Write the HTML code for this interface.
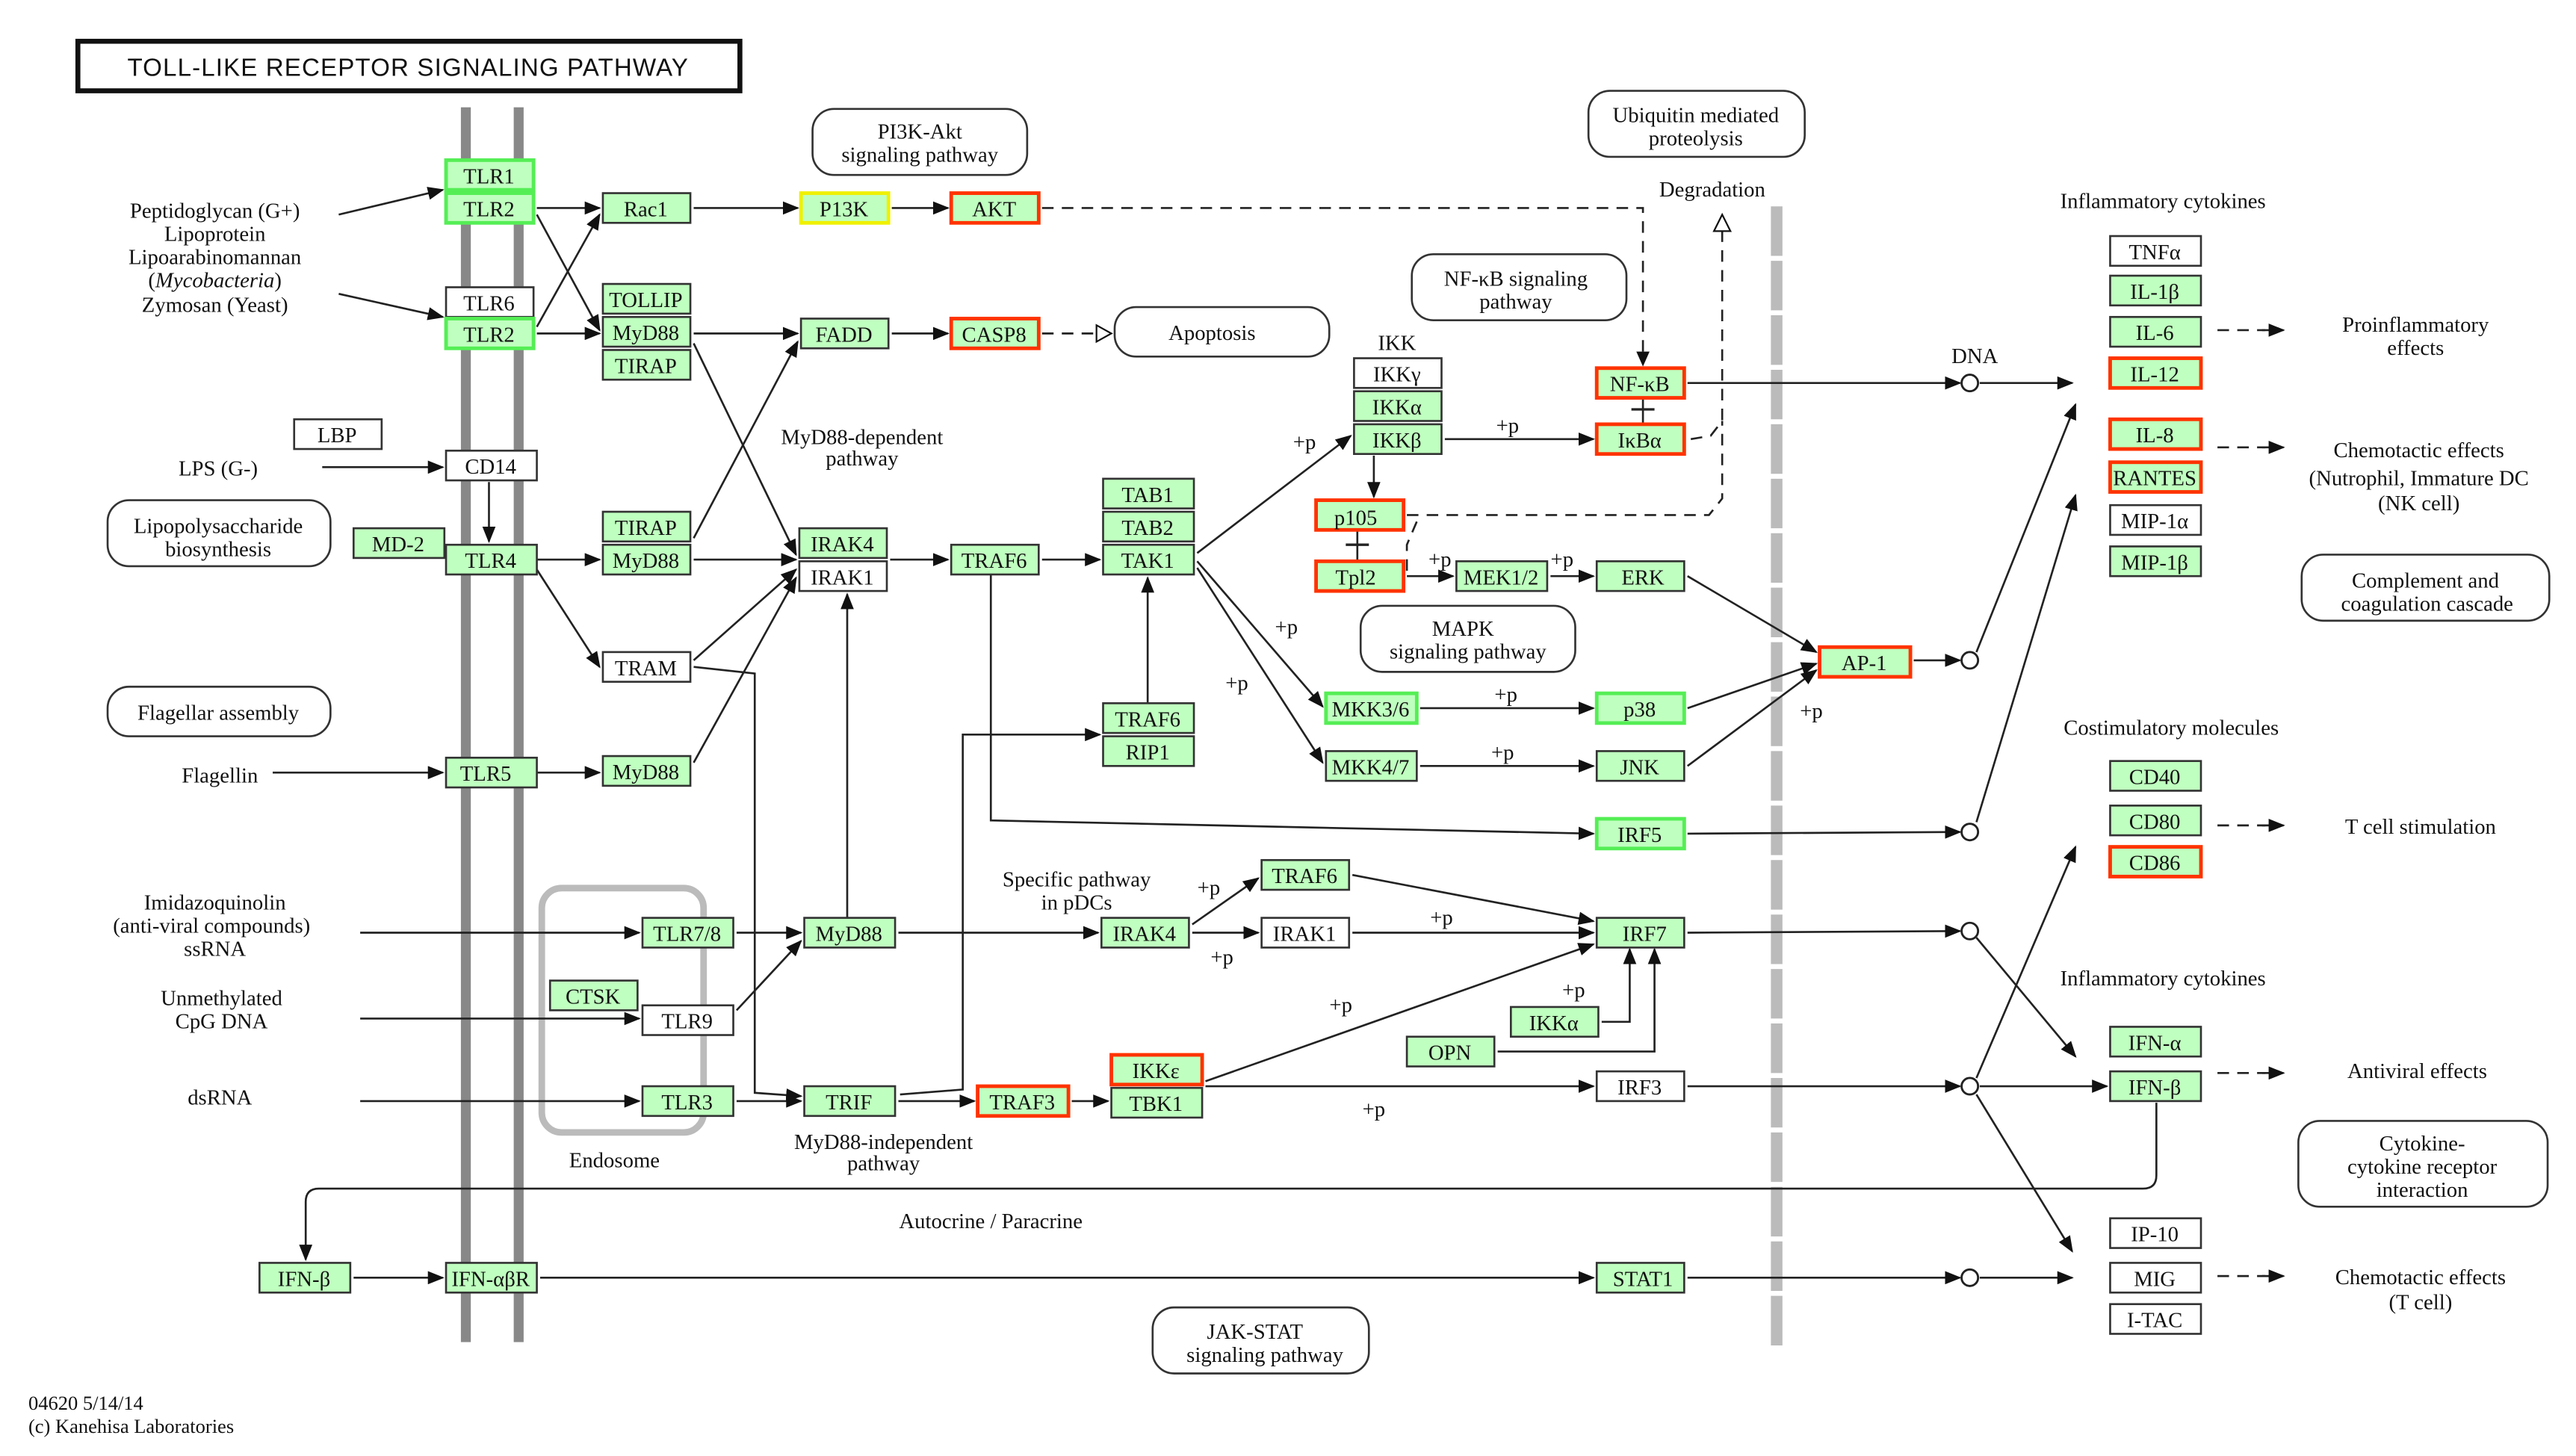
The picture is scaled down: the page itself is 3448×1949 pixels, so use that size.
<!DOCTYPE html>
<html><head><meta charset="utf-8"><style>
html,body{margin:0;padding:0;background:#fff;}
svg{display:block;}
text{font-family:"Liberation Serif",serif;font-size:13px;fill:#111;}
.n{text-anchor:middle;}
.g{fill:#bfffbf;stroke:#333;stroke-width:1.2;}
.w{fill:#fff;stroke:#333;stroke-width:1.2;}
.r{fill:#bfffbf;stroke:#ff3300;stroke-width:2.2;}
.b{fill:#bfffbf;stroke:#55ee55;stroke-width:2.2;}
.y{fill:#bfffbf;stroke:#f0f000;stroke-width:2.2;}
.rb{fill:#fff;stroke:#333;stroke-width:1.2;}
.l line,.l polyline,.l path{stroke:#222;stroke-width:1.2;fill:none;marker-end:url(#a);}
.d line,.d polyline{stroke:#222;stroke-width:1.2;fill:none;stroke-dasharray:7,5;}
</style></head><body>
<svg width="3448" height="1949" viewBox="0 0 1560 882" xmlns="http://www.w3.org/2000/svg">
<defs>
<marker id="a" markerWidth="10" markerHeight="8" refX="9" refY="4" orient="auto" markerUnits="userSpaceOnUse"><path d="M0,0 L10,4 L0,8 Z" fill="#111"/></marker>
<marker id="o" markerWidth="10" markerHeight="8" refX="9" refY="4" orient="auto" markerUnits="userSpaceOnUse"><path d="M0,0 L10,4 L0,8 Z" fill="#fff" stroke="#111" stroke-width="1"/></marker>
</defs>
<rect width="1560" height="882" fill="#fff"/>
<!-- membranes -->
<rect x="279" y="65" width="6" height="748" fill="#888"/>
<rect x="311" y="65" width="6" height="748" fill="#888"/>
<line x1="1076" y1="125" x2="1076" y2="815" stroke="#bbb" stroke-width="7" stroke-dasharray="30,3"/>
<!-- title -->
<rect x="47" y="25" width="401" height="30" fill="#fff" stroke="#111" stroke-width="3"/>
<text x="247" y="46" class="n" style="font-size:15px;font-family:'Liberation Sans',sans-serif;letter-spacing:0.5px">TOLL-LIKE  RECEPTOR  SIGNALING  PATHWAY</text>
<!-- endosome -->
<rect x="328" y="538" width="98" height="148" rx="12" fill="none" stroke="#bbb" stroke-width="4"/>
<!-- rounded boxes -->
<rect class="rb" x="492" y="66" width="130" height="40" rx="13"/><text class="n" x="557" y="84">PI3K-Akt</text><text class="n" x="557" y="98">signaling pathway</text>
<rect class="rb" x="962" y="55" width="131" height="40" rx="13"/><text class="n" x="1027" y="74">Ubiquitin mediated</text><text class="n" x="1027" y="88">proteolysis</text>
<rect class="rb" x="855" y="154" width="130" height="40" rx="13"/><text class="n" x="918" y="173">NF-κB signaling</text><text class="n" x="918" y="187">pathway</text>
<rect class="rb" x="675" y="186" width="130" height="30" rx="13"/><text class="n" x="734" y="206">Apoptosis</text>
<rect class="rb" x="65" y="303" width="135" height="40" rx="13"/><text class="n" x="132" y="323">Lipopolysaccharide</text><text class="n" x="132" y="337">biosynthesis</text>
<rect class="rb" x="65" y="416" width="135" height="30" rx="13"/><text class="n" x="132" y="436">Flagellar assembly</text>
<rect class="rb" x="824" y="367" width="130" height="40" rx="13"/><text class="n" x="886" y="385">MAPK</text><text class="n" x="889" y="399">signaling pathway</text>
<rect class="rb" x="1394" y="336" width="150" height="40" rx="13"/><text class="n" x="1469" y="356">Complement and</text><text class="n" x="1470" y="370">coagulation cascade</text>
<rect class="rb" x="1392" y="679" width="151" height="52" rx="13"/><text class="n" x="1467" y="697">Cytokine-</text><text class="n" x="1467" y="711">cytokine receptor</text><text class="n" x="1467" y="725">interaction</text>
<rect class="rb" x="698" y="792" width="131" height="40" rx="13"/><text class="n" x="760" y="811">JAK-STAT</text><text class="n" x="766" y="825">signaling pathway</text>

<!-- edges -->
<g class="l">
<line x1="205" y1="130" x2="268" y2="115"/>
<line x1="205" y1="178" x2="268" y2="192"/>
<line x1="325" y1="126" x2="363" y2="126"/>
<line x1="325" y1="130" x2="363" y2="200"/>
<line x1="325" y1="198" x2="363" y2="130"/>
<line x1="325" y1="202" x2="363" y2="202"/>
<line x1="420" y1="126" x2="483" y2="126"/>
<line x1="540" y1="126" x2="574" y2="126"/>
<line x1="420" y1="202" x2="483" y2="202"/>
<line x1="540" y1="202" x2="574" y2="202"/>
<line x1="420" y1="208" x2="482" y2="336"/>
<line x1="420" y1="326" x2="483" y2="207"/>
<line x1="195" y1="283" x2="268" y2="283"/>
<line x1="296" y1="292" x2="296" y2="328"/>
<line x1="325" y1="339" x2="363" y2="339"/>
<line x1="325" y1="345" x2="363" y2="404"/>
<line x1="420" y1="339" x2="482" y2="339"/>
<line x1="420" y1="400" x2="482" y2="345"/>
<line x1="420" y1="462" x2="482" y2="350"/>
<line x1="165" y1="468" x2="268" y2="468"/>
<line x1="325" y1="468" x2="363" y2="468"/>
<line x1="539" y1="339" x2="574" y2="339"/>
<line x1="631" y1="339" x2="666" y2="339"/>
<line x1="725" y1="335" x2="818" y2="264"/>
<line x1="725" y1="340" x2="801" y2="428"/>
<line x1="725" y1="344" x2="801" y2="462"/>
<line x1="832" y1="276" x2="832" y2="301"/>
<line x1="875" y1="266" x2="965" y2="266"/>
<line x1="1022" y1="232" x2="1187" y2="232"/>
<line x1="1199" y1="232" x2="1255" y2="232"/>
<line x1="852" y1="349" x2="880" y2="349"/>
<line x1="939" y1="349" x2="965" y2="349"/>
<line x1="1022" y1="349" x2="1100" y2="395"/>
<line x1="1022" y1="429" x2="1100" y2="402"/>
<line x1="1022" y1="464" x2="1100" y2="406"/>
<line x1="860" y1="429" x2="965" y2="429"/>
<line x1="860" y1="464" x2="965" y2="464"/>
<line x1="1159" y1="400" x2="1187" y2="400"/>
<polyline points="600,348 600,497 965,505"/>
<line x1="1022" y1="505" x2="1187" y2="504"/>
<line x1="695" y1="426" x2="695" y2="350"/>
<polyline points="545,663 583,660 583,445 666,445"/>
<polyline points="420,404 457,408 457,662 485,664"/>
<line x1="513" y1="556" x2="513" y2="360"/>
<line x1="446" y1="565" x2="485" y2="565"/>
<line x1="446" y1="612" x2="485" y2="570"/>
<line x1="544" y1="565" x2="665" y2="565"/>
<line x1="722" y1="560" x2="762" y2="532"/>
<line x1="722" y1="565" x2="762" y2="565"/>
<line x1="819" y1="565" x2="965" y2="565"/>
<line x1="819" y1="530" x2="965" y2="558"/>
<line x1="1022" y1="565" x2="1187" y2="564"/>
<line x1="730" y1="655" x2="965" y2="572"/>
<polyline points="970,619 987,619 987,575"/>
<polyline points="907,637 1002,637 1002,575"/>
<line x1="730" y1="658" x2="965" y2="658"/>
<line x1="1022" y1="658" x2="1187" y2="658"/>
<line x1="446" y1="667" x2="485" y2="667"/>
<line x1="544" y1="667" x2="590" y2="667"/>
<line x1="649" y1="667" x2="671" y2="667"/>
<line x1="218" y1="565" x2="387" y2="565"/>
<line x1="218" y1="617" x2="387" y2="617"/>
<line x1="218" y1="667" x2="387" y2="667"/>
<path d="M1306,668 L1306,712 Q1306,720 1298,720 L193,720 Q185,720 185,728 L185,763"/>
<line x1="214" y1="774" x2="268" y2="774"/>
<line x1="327" y1="774" x2="965" y2="774"/>
<line x1="1022" y1="774" x2="1187" y2="774"/>
<line x1="1199" y1="774" x2="1255" y2="774"/>
<line x1="1197" y1="395" x2="1257" y2="245"/>
<line x1="1197" y1="498" x2="1257" y2="300"/>
<line x1="1197" y1="568" x2="1257" y2="640"/>
<line x1="1197" y1="653" x2="1257" y2="513"/>
<line x1="1199" y1="658" x2="1276" y2="658"/>
<line x1="1197" y1="663" x2="1255" y2="758"/>
<line x1="1370" y1="200" x2="1383" y2="200"/>
<line x1="1370" y1="271" x2="1383" y2="271"/>
<line x1="1370" y1="500" x2="1383" y2="500"/>
<line x1="1370" y1="650" x2="1383" y2="650"/>
<line x1="1370" y1="773" x2="1383" y2="773"/>
</g>
<g class="d">
<line x1="1343" y1="200" x2="1372" y2="200"/>
<line x1="1343" y1="271" x2="1372" y2="271"/>
<line x1="1343" y1="500" x2="1372" y2="500"/>
<line x1="1343" y1="650" x2="1372" y2="650"/>
<line x1="1343" y1="773" x2="1372" y2="773"/>
<polyline points="631,126 995,126 995,215"/>
<polyline points="631,202 668,202"/>
<polyline points="1024,266 1036,264 1043,255 1043,140"/>
<polyline points="852,312 1035,312 1043,302 1043,255"/>
<polyline points="858,316 852,330 852,348"/>
</g>
<path d="M995,213 L991,213 L995,222 L999,213 Z" fill="#111"/>
<path d="M664,197 L673,202 L664,207 Z" fill="#fff" stroke="#111"/>
<path d="M1038,140 L1043,130 L1048,140 Z" fill="#fff" stroke="#111"/>
<!-- inhibition bars -->
<line x1="995" y1="241" x2="995" y2="257" stroke="#222" stroke-width="1.2"/><line x1="988" y1="248" x2="1002" y2="248" stroke="#222" stroke-width="1.5"/>
<line x1="822" y1="321" x2="822" y2="340" stroke="#222" stroke-width="1.2"/><line x1="815" y1="330" x2="829" y2="330" stroke="#222" stroke-width="1.5"/>
<!-- circles -->
<g fill="#fff" stroke="#222" stroke-width="1.3">
<circle cx="1193" cy="232" r="5"/><circle cx="1193" cy="400" r="5"/><circle cx="1193" cy="504" r="5"/><circle cx="1193" cy="564" r="5"/><circle cx="1193" cy="658" r="5"/><circle cx="1193" cy="774" r="5"/>
</g>

<!-- nodes -->
<g>
<rect class="b" x="270" y="97" width="53" height="18"/><text class="n" x="296" y="111">TLR1</text>
<rect class="b" x="270" y="117" width="53" height="18"/><text class="n" x="296" y="131">TLR2</text>
<rect class="w" x="270" y="174" width="53" height="18"/><text class="n" x="296" y="188">TLR6</text>
<rect class="b" x="270" y="193" width="53" height="18"/><text class="n" x="296" y="207">TLR2</text>
<rect class="w" x="178" y="254" width="53" height="18"/><text class="n" x="204" y="268">LBP</text>
<rect class="w" x="270" y="273" width="55" height="18"/><text class="n" x="297" y="287">CD14</text>
<rect class="g" x="214" y="320" width="55" height="18"/><text class="n" x="241" y="334">MD-2</text>
<rect class="g" x="270" y="330" width="55" height="18"/><text class="n" x="297" y="344">TLR4</text>
<rect class="g" x="270" y="459" width="55" height="18"/><text class="n" x="294" y="473">TLR5</text>
<rect class="g" x="365" y="117" width="53" height="18"/><text class="n" x="391" y="131">Rac1</text>
<rect class="g" x="365" y="172" width="53" height="18"/><text class="n" x="391" y="186">TOLLIP</text>
<rect class="g" x="365" y="192" width="53" height="18"/><text class="n" x="391" y="206">MyD88</text>
<rect class="g" x="365" y="212" width="53" height="18"/><text class="n" x="391" y="226">TIRAP</text>
<rect class="g" x="365" y="310" width="53" height="18"/><text class="n" x="391" y="324">TIRAP</text>
<rect class="g" x="365" y="330" width="53" height="18"/><text class="n" x="391" y="344">MyD88</text>
<rect class="w" x="365" y="395" width="53" height="18"/><text class="n" x="391" y="409">TRAM</text>
<rect class="g" x="365" y="458" width="53" height="18"/><text class="n" x="391" y="472">MyD88</text>
<rect class="y" x="485" y="117" width="53" height="18"/><text class="n" x="511" y="131">P13K</text>
<rect class="r" x="576" y="117" width="53" height="18"/><text class="n" x="602" y="131">AKT</text>
<rect class="g" x="485" y="193" width="53" height="18"/><text class="n" x="511" y="207">FADD</text>
<rect class="r" x="576" y="193" width="53" height="18"/><text class="n" x="602" y="207">CASP8</text>
<rect class="g" x="484" y="320" width="53" height="18"/><text class="n" x="510" y="334">IRAK4</text>
<rect class="w" x="484" y="340" width="53" height="18"/><text class="n" x="510" y="354">IRAK1</text>
<rect class="g" x="576" y="330" width="53" height="18"/><text class="n" x="602" y="344">TRAF6</text>
<rect class="g" x="668" y="290" width="55" height="18"/><text class="n" x="695" y="304">TAB1</text>
<rect class="g" x="668" y="310" width="55" height="18"/><text class="n" x="695" y="324">TAB2</text>
<rect class="g" x="668" y="330" width="55" height="18"/><text class="n" x="695" y="344">TAK1</text>
<rect class="g" x="668" y="426" width="55" height="18"/><text class="n" x="695" y="440">TRAF6</text>
<rect class="g" x="668" y="446" width="55" height="18"/><text class="n" x="695" y="460">RIP1</text>
<text class="n" x="846" y="212">IKK</text>
<rect class="w" x="820" y="217" width="53" height="18"/><text class="n" x="846" y="231">IKKγ</text>
<rect class="g" x="820" y="237" width="53" height="18"/><text class="n" x="846" y="251">IKKα</text>
<rect class="g" x="820" y="257" width="53" height="18"/><text class="n" x="846" y="271">IKKβ</text>
<rect class="r" x="967" y="223" width="53" height="18"/><text class="n" x="993" y="237">NF-κB</text>
<rect class="r" x="967" y="257" width="53" height="18"/><text class="n" x="993" y="271">IκBα</text>
<rect class="r" x="797" y="303" width="53" height="18"/><text class="n" x="821" y="318">p105</text>
<rect class="r" x="797" y="340" width="53" height="18"/><text class="n" x="821" y="354">Tpl2</text>
<rect class="g" x="882" y="340" width="55" height="18"/><text class="n" x="909" y="354">MEK1/2</text>
<rect class="g" x="967" y="340" width="53" height="18"/><text class="n" x="995" y="354">ERK</text>
<rect class="b" x="803" y="420" width="55" height="18"/><text class="n" x="830" y="434">MKK3/6</text>
<rect class="b" x="967" y="420" width="53" height="18"/><text class="n" x="993" y="434">p38</text>
<rect class="g" x="803" y="455" width="55" height="18"/><text class="n" x="830" y="469">MKK4/7</text>
<rect class="g" x="967" y="455" width="53" height="18"/><text class="n" x="993" y="469">JNK</text>
<rect class="r" x="1102" y="392" width="55" height="18"/><text class="n" x="1129" y="406">AP-1</text>
<rect class="b" x="967" y="496" width="53" height="18"/><text class="n" x="993" y="510">IRF5</text>
<rect class="g" x="764" y="521" width="53" height="18"/><text class="n" x="790" y="535">TRAF6</text>
<rect class="g" x="667" y="556" width="53" height="18"/><text class="n" x="693" y="570">IRAK4</text>
<rect class="w" x="764" y="556" width="53" height="18"/><text class="n" x="790" y="570">IRAK1</text>
<rect class="g" x="967" y="556" width="53" height="18"/><text class="n" x="996" y="570">IRF7</text>
<rect class="g" x="915" y="610" width="53" height="18"/><text class="n" x="941" y="624">IKKα</text>
<rect class="g" x="852" y="628" width="53" height="18"/><text class="n" x="878" y="642">OPN</text>
<rect class="r" x="673" y="639" width="55" height="18"/><text class="n" x="700" y="653">IKKε</text>
<rect class="g" x="673" y="659" width="55" height="18"/><text class="n" x="700" y="673">TBK1</text>
<rect class="w" x="967" y="649" width="53" height="18"/><text class="n" x="993" y="663">IRF3</text>
<rect class="g" x="389" y="556" width="55" height="18"/><text class="n" x="416" y="570">TLR7/8</text>
<rect class="g" x="487" y="556" width="55" height="18"/><text class="n" x="514" y="570">MyD88</text>
<rect class="g" x="333" y="594" width="53" height="18"/><text class="n" x="359" y="608">CTSK</text>
<rect class="w" x="389" y="609" width="55" height="18"/><text class="n" x="416" y="623">TLR9</text>
<rect class="g" x="389" y="658" width="55" height="18"/><text class="n" x="416" y="672">TLR3</text>
<rect class="g" x="487" y="658" width="55" height="18"/><text class="n" x="514" y="672">TRIF</text>
<rect class="r" x="592" y="658" width="55" height="18"/><text class="n" x="619" y="672">TRAF3</text>
<rect class="g" x="157" y="765" width="55" height="18"/><text class="n" x="184" y="779">IFN-β</text>
<rect class="g" x="270" y="765" width="55" height="18"/><text class="n" x="297" y="779">IFN-αβR</text>
<rect class="g" x="967" y="765" width="53" height="18"/><text class="n" x="995" y="779">STAT1</text>
<rect class="w" x="1278" y="143" width="55" height="18"/><text class="n" x="1305" y="157">TNFα</text>
<rect class="g" x="1278" y="167" width="55" height="18"/><text class="n" x="1305" y="181">IL-1β</text>
<rect class="g" x="1278" y="192" width="55" height="18"/><text class="n" x="1305" y="206">IL-6</text>
<rect class="r" x="1278" y="217" width="55" height="18"/><text class="n" x="1305" y="231">IL-12</text>
<rect class="r" x="1278" y="254" width="55" height="18"/><text class="n" x="1305" y="268">IL-8</text>
<rect class="r" x="1278" y="280" width="55" height="18"/><text class="n" x="1305" y="294">RANTES</text>
<rect class="w" x="1278" y="306" width="55" height="18"/><text class="n" x="1305" y="320">MIP-1α</text>
<rect class="g" x="1278" y="331" width="55" height="18"/><text class="n" x="1305" y="345">MIP-1β</text>
<rect class="g" x="1278" y="461" width="55" height="18"/><text class="n" x="1305" y="475">CD40</text>
<rect class="g" x="1278" y="488" width="55" height="18"/><text class="n" x="1305" y="502">CD80</text>
<rect class="r" x="1278" y="513" width="55" height="18"/><text class="n" x="1305" y="527">CD86</text>
<rect class="g" x="1278" y="622" width="55" height="18"/><text class="n" x="1305" y="636">IFN-α</text>
<rect class="g" x="1278" y="649" width="55" height="18"/><text class="n" x="1305" y="663">IFN-β</text>
<rect class="w" x="1278" y="738" width="55" height="18"/><text class="n" x="1305" y="752">IP-10</text>
<rect class="w" x="1278" y="765" width="55" height="18"/><text class="n" x="1305" y="779">MIG</text>
<rect class="w" x="1278" y="790" width="55" height="18"/><text class="n" x="1305" y="804">I-TAC</text>
</g>

<!-- labels -->
<g class="n">
<text class="n" x="130" y="132">Peptidoglycan (G+)</text>
<text class="n" x="130" y="146">Lipoprotein</text>
<text class="n" x="130" y="160">Lipoarabinomannan</text>
<text class="n" x="130" y="174">(<tspan font-style="italic">Mycobacteria</tspan>)</text>
<text class="n" x="130" y="189">Zymosan (Yeast)</text>
<text class="n" x="132" y="288">LPS (G-)</text>
<text class="n" x="133" y="474">Flagellin</text>
<text class="n" x="130" y="551">Imidazoquinolin</text>
<text class="n" x="128" y="565">(anti-viral compounds)</text>
<text class="n" x="130" y="579">ssRNA</text>
<text class="n" x="134" y="609">Unmethylated</text>
<text class="n" x="134" y="623">CpG DNA</text>
<text class="n" x="133" y="669">dsRNA</text>
<text class="n" x="522" y="269">MyD88-dependent</text>
<text class="n" x="522" y="282">pathway</text>
<text class="n" x="652" y="537">Specific pathway</text>
<text class="n" x="652" y="551">in pDCs</text>
<text class="n" x="535" y="696">MyD88-independent</text>
<text class="n" x="535" y="709">pathway</text>
<text class="n" x="372" y="707">Endosome</text>
<text class="n" x="600" y="744">Autocrine / Paracrine</text>
<text class="n" x="1037" y="119">Degradation</text>
<text class="n" x="1196" y="220">DNA</text>
<text class="n" x="1310" y="126">Inflammatory cytokines</text>
<text class="n" x="1463" y="201">Proinflammatory</text>
<text class="n" x="1463" y="215">effects</text>
<text class="n" x="1465" y="277">Chemotactic effects</text>
<text class="n" x="1465" y="294">(Nutrophil, Immature DC</text>
<text class="n" x="1465" y="309">(NK cell)</text>
<text class="n" x="1315" y="445">Costimulatory molecules</text>
<text class="n" x="1466" y="505">T cell stimulation</text>
<text class="n" x="1310" y="597">Inflammatory cytokines</text>
<text class="n" x="1464" y="653">Antiviral effects</text>
<text class="n" x="1466" y="778">Chemotactic effects</text>
<text class="n" x="1466" y="793">(T cell)</text>
<text class="n" x="790" y="272">+p</text><text class="n" x="913" y="262">+p</text>
<text class="n" x="779" y="384">+p</text><text class="n" x="749" y="418">+p</text>
<text class="n" x="912" y="425">+p</text><text class="n" x="910" y="460">+p</text>
<text class="n" x="1097" y="435">+p</text><text class="n" x="732" y="542">+p</text>
<text class="n" x="740" y="584">+p</text><text class="n" x="873" y="560">+p</text>
<text class="n" x="812" y="613">+p</text><text class="n" x="953" y="604">+p</text>
<text class="n" x="832" y="676">+p</text><text class="n" x="872" y="343">+p</text>
<text class="n" x="946" y="343">+p</text>
</g>
<text x="17" y="854" style="font-size:12px">04620 5/14/14</text>
<text x="17" y="868" style="font-size:12px">(c) Kanehisa Laboratories</text>
</svg>
</body></html>
